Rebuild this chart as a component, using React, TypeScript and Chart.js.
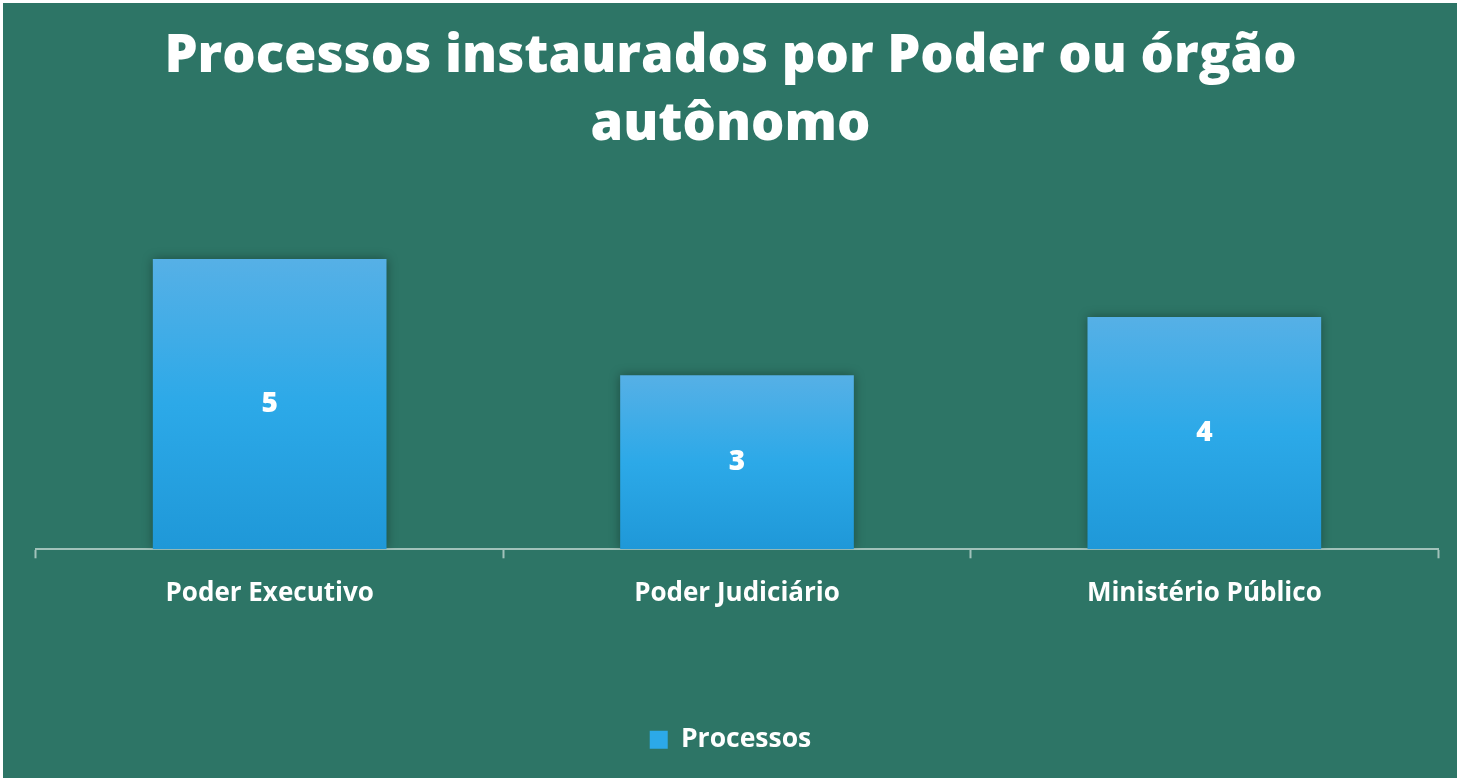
import React, { useEffect, useRef } from "react";
import { Chart, registerables } from "chart.js";

Chart.register(...registerables);

const categories = ["Poder Executivo", "Poder Judiciário", "Ministério Público"];
const processos = [5, 3, 4];
const titleLines = ["Processos instaurados por Poder ou órgão", "autônomo"];
const seriesName = "Processos";

const BG = "#2D7566";

const barShadow = {
  id: "barShadow",
  beforeDatasetDraw(chart: any) {
    const ctx = chart.ctx;
    ctx.save();
    ctx.shadowColor = "rgba(0,0,0,0.35)";
    ctx.shadowBlur = 10;
    ctx.shadowOffsetX = 0;
    ctx.shadowOffsetY = 0;
  },
  afterDatasetDraw(chart: any) {
    chart.ctx.restore();
  },
};

const valueLabels = {
  id: "valueLabels",
  afterDatasetsDraw(chart: any) {
    const ctx = chart.ctx;
    const meta = chart.getDatasetMeta(0);
    ctx.save();
    ctx.fillStyle = "#ffffff";
    ctx.font = "800 28px 'Open Sans'";
    ctx.textAlign = "center";
    ctx.textBaseline = "middle";
    meta.data.forEach((bar: any, i: number) => {
      const y = (bar.y + bar.base) / 2;
      ctx.fillText(String(processos[i]), bar.x, y);
    });
    ctx.restore();
  },
};

export default function App() {
  const ref = useRef<HTMLCanvasElement>(null);

  useEffect(() => {
    document.body.style.margin = "0";
    const chart = new Chart(ref.current!, {
      type: "bar",
      data: {
        labels: categories,
        datasets: [
          {
            label: seriesName,
            data: processos,
            backgroundColor: (c: any) => {
              const ch = c.chart;
              const ys = ch.scales?.y;
              if (!ys || c.type !== "data") return "#2EA9E8";
              const top = ys.getPixelForValue(c.parsed.y);
              const bot = ys.getPixelForValue(0);
              const g = ch.ctx.createLinearGradient(0, top, 0, bot);
              g.addColorStop(0, "#56B0E6");
              g.addColorStop(0.5, "#2CA9E8");
              g.addColorStop(1, "#1F98D8");
              return g;
            },
            borderWidth: 0,
            categoryPercentage: 1,
            barPercentage: 0.5,
          },
        ],
      },
      options: {
        animation: false,
        responsive: true,
        maintainAspectRatio: false,
        layout: { padding: { left: 20, right: 19, top: 0, bottom: 15 } },
        plugins: {
          title: {
            display: true,
            text: titleLines,
            color: "#ffffff",
            font: { family: "'Open Sans'", size: 52.5, weight: "800", lineHeight: 1.295 },
            padding: { top: 20, bottom: 42 },
          },
          legend: {
            position: "bottom",
            labels: {
              color: "#ffffff",
              font: { family: "'Open Sans'", size: 26.5, weight: "bold" },
              boxWidth: 18,
              boxHeight: 18,
              padding: 20,
              generateLabels: () => [
                {
                  text: seriesName,
                  fillStyle: "#2CA9E8",
                  strokeStyle: "#2CA9E8",
                  lineWidth: 0,
                  fontColor: "#ffffff",
                  datasetIndex: 0,
                } as any,
              ],
            },
          },
          tooltip: { enabled: false },
        },
        scales: {
          x: {
            afterFit: (scale: any) => {
              scale.height += 77;
            },
            grid: {
              display: true,
              offset: true,
              drawOnChartArea: false,
              drawTicks: true,
              tickLength: 9,
              tickWidth: 2,
              color: "rgba(200,220,215,0.75)",
            },
            border: { display: true, color: "rgba(200,220,215,0.75)", width: 2 },
            ticks: {
              color: "#ffffff",
              font: { family: "'Open Sans'", size: 26, weight: "bold" },
              padding: 20,
            },
          },
          y: {
            display: true,
            min: 0,
            max: 6,
            grid: { display: false },
            border: { display: false },
            ticks: { display: false },
            afterFit: (scale: any) => {
              scale.width = 13;
            },
          },
        },
      },
      plugins: [barShadow, valueLabels],
    });
    return () => chart.destroy();
  }, []);

  return (
    <div
      style={{
        position: "absolute",
        left: 3,
        top: 3,
        width: 1454,
        height: 775,
        background: BG,
      }}
    >
      <canvas ref={ref} />
    </div>
  );
}
